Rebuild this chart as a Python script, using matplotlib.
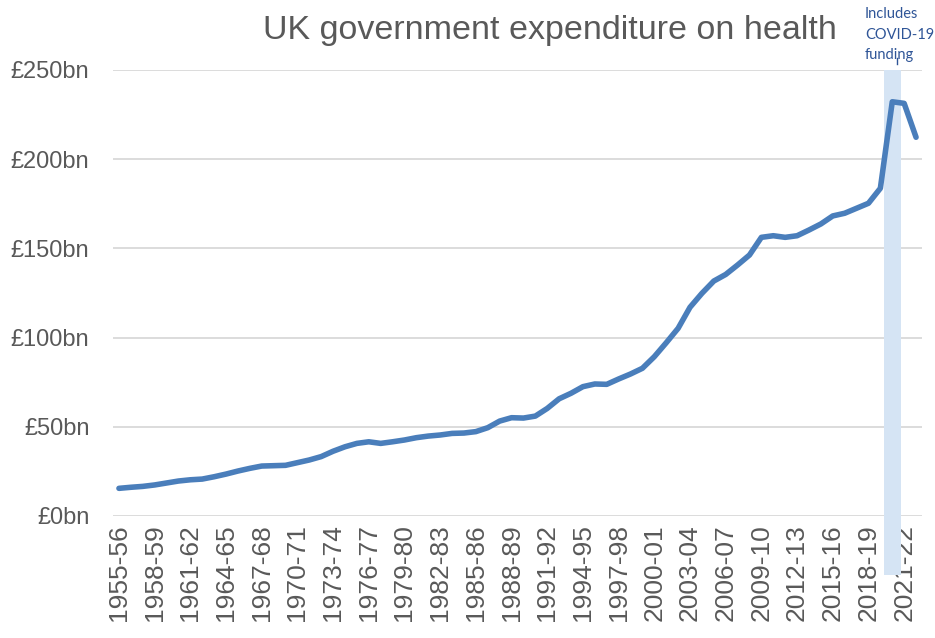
import matplotlib
matplotlib.use("Agg")
import matplotlib.pyplot as plt
import matplotlib.transforms as mtransforms
from matplotlib.patches import Rectangle

# fiscal years 1955-56 .. 2022-23
start_years = list(range(1955, 2023))
categories = [f"{y}-{str(y + 1)[-2:]}" for y in start_years]

# £bn
spend_bn = [
    15.5, 16.1, 16.6, 17.4, 18.5, 19.6, 20.3, 20.7, 22.0, 23.5,
    25.2, 26.7, 28.0, 28.2, 28.4, 29.9, 31.4, 33.3, 36.3, 38.8,
    40.7, 41.6, 40.7, 41.6, 42.6, 43.9, 44.8, 45.4, 46.3, 46.5,
    47.3, 49.5, 53.2, 55.1, 54.9, 56.0, 60.3, 65.7, 68.8, 72.5,
    74.0, 73.8, 76.8, 79.6, 82.8, 89.3, 97.1, 105.2, 117.0, 124.8,
    131.7, 135.4, 140.7, 146.3, 156.2, 157.1, 156.2, 157.1, 160.3, 163.7,
    168.2, 169.7, 172.5, 175.3, 183.7, 232.2, 231.3, 212.3,
]
covid_year = "2020-21"
y_ticks = [0, 50, 100, 150, 200, 250]
y_tick_labels = [f"£{v}bn" for v in y_ticks]

plt.rcParams["font.family"] = ["Liberation Sans", "DejaVu Sans"]
grey = "#595959"

fig = plt.figure(figsize=(9.35, 6.38), dpi=100)
ax = fig.add_axes([113 / 935, 1 - 516 / 638, (922 - 113) / 935, (516 - 70) / 638])

x = list(range(len(categories)))
ax.plot(x, spend_bn, color="#4a7ebb", lw=4, solid_capstyle="round",
        solid_joinstyle="round", zorder=3)

# shaded covid band, runs down into the tick label area
ci = categories.index(covid_year)
trans = mtransforms.blended_transform_factory(ax.transData, ax.transAxes)
ax.add_patch(Rectangle((ci - 0.7, -0.132), 1.4, 1.132, transform=trans,
                       facecolor="#d5e4f4", edgecolor="none", zorder=1,
                       clip_on=False))

ax.set_xlim(-0.5, len(categories) - 0.5)
ax.set_ylim(0, 250)
ax.set_yticks(y_ticks)
ax.set_yticklabels(y_tick_labels, fontsize=17, color=grey)
ax.set_xticks(x[::3])
ax.set_xticklabels(categories[::3], rotation=90, fontsize=19, color=grey)
ax.tick_params(length=0, pad=6)
ax.tick_params(axis="y", pad=17)
ax.grid(axis="y", color="#d9d9d9", lw=1.3, zorder=0)
ax.set_axisbelow(True)
for s in ax.spines.values():
    s.set_visible(False)

fig.text(550 / 935, 1 - 31 / 638, "UK government expenditure on health",
         fontsize=24.5, color=grey, ha="center", va="center")
fig.text(865 / 935, 1 - 7 / 638, "Includes\nCOVID-19\nfunding",
         fontsize=10.5, color="#2f5597", ha="left", va="top",
         family=["Lato", "DejaVu Sans"], linespacing=1.6)
fig.add_artist(plt.Line2D([897 / 935, 897 / 935], [1 - 58 / 638, 1 - 64 / 638],
                          color="#2f5597", lw=1))

fig.savefig("out.png", dpi=100)
